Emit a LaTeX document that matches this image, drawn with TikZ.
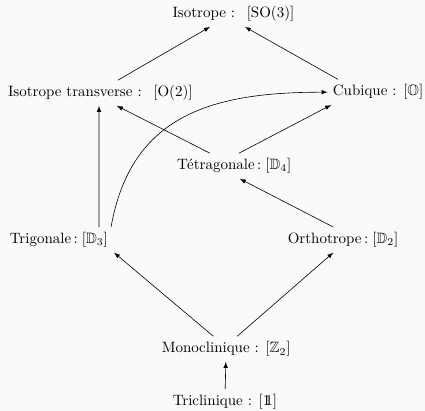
\documentclass[tikz,border=0pt]{standalone}
\usepackage{fontspec}
\usepackage{amsmath,amssymb}
\usetikzlibrary{calc}

\newcommand{\unitgrp}{\mathrm{1}\!\!\mathrm{1}}

\begin{document}
\begin{tikzpicture}[->,>=latex]
            \useasboundingbox (0,0) rectangle (9.96,-9.63);
            \fill[black!2] (0,0) rectangle (9.96,-9.63);

            \node (Iso)   at (5.47,-0.33) {Isotrope : \ $[\mathrm{SO}(3)]$};
            \node (IsoT)  at (2.35,-2.18) {Isotrope transverse : \ $[\mathrm{O}(2)]$};
            \node (Cub)   at (8.86,-2.16) {Cubique : $[\mathbb{O}]$};
            \node (Tetra) at (5.49,-3.89) {Tétragonale$\,:[\mathbb{D}_4]$};
            \node (Trig)  at (1.38,-5.62) {Trigonale$\,:[\mathbb{D}_3]$};
            \node (Ortho) at (8.04,-5.62) {Orthotrope$\,:[\mathbb{D}_2]$};
            \node (Mono)  at (5.30,-8.18) {Monoclinique : $[\mathbb{Z}_2]$};
            \node (Tric)  at (5.27,-9.42) {Triclinique : $[\unitgrp]$};

            \draw ($(IsoT.north)+(0.41,0)$) -- ($(Iso.south)+(-0.55,0)$);
            \draw ($(Cub.north)+(-0.94,0)$) -- ($(Iso.south)+(0.27,0)$);
            \draw ($(Tetra.north)+(-0.57,0)$) -- ($(IsoT.south)+(0.39,0)$);
            \draw ($(Tetra.north)+(0.11,0)$) -- ($(Cub.south)+(-1.10,0)$);
            \draw ($(Trig.north)+(0.94,0)$) -- ($(IsoT.south)+(-0.03,0)$);
            \draw ($(Trig.north east)+(-0.05,0)$) to[out=80,in=180,looseness=1.15] (Cub.west);
            \draw ($(Ortho.north)+(-0.23,0)$) -- ($(Tetra.south)+(0.13,0)$);
            \draw ($(Mono.north)+(-0.30,0)$) -- ($(Trig.south east)+(0.02,0)$);
            \draw ($(Mono.north)+(0.26,0)$) -- ($(Ortho.south)+(-0.23,0)$);
            \draw (Tric) -- (Mono);
        \end{tikzpicture}
\end{document}
